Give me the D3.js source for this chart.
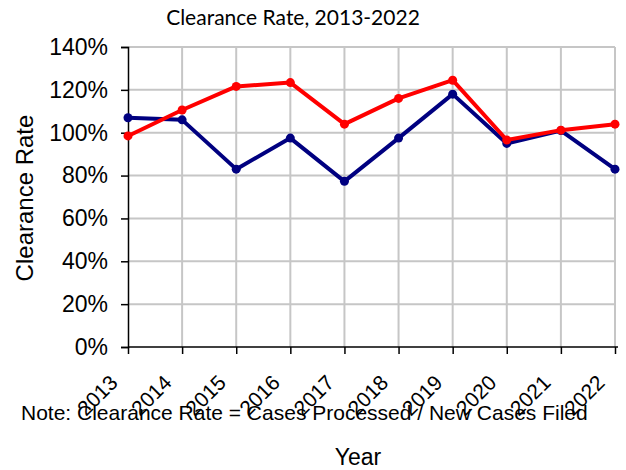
<!DOCTYPE html>
<html>
<head>
<meta charset="utf-8">
<script src="https://cdn.jsdelivr.net/npm/d3@7"></script>
<style>
  body { margin: 0; background: #fff; }
  text { font-family: "Liberation Sans", Arial, sans-serif; }
</style>
</head>
<body>
<svg id="chart" width="626" height="470"></svg>
<script>
const years = ['2013', '2014', '2015', '2016', '2017', '2018', '2019', '2020', '2021', '2022'];
const blue_rate = [1.07, 1.06, 0.83, 0.975, 0.773, 0.975, 1.18, 0.95, 1.01, 0.83];
const red_rate = [0.985, 1.106, 1.216, 1.234, 1.04, 1.16, 1.245, 0.966, 1.012, 1.04];
const y_ticks = [0, 0.2, 0.4, 0.6, 0.8, 1.0, 1.2, 1.4];

const svg = d3.select('#chart');
const xScale = d3.scalePoint().domain(years).range([128, 615]);
const yScale = d3.scaleLinear().domain([0, 1.4]).range([347, 47]);

// grid
const grid = svg.append('g').attr('id', 'grid');
grid.selectAll('line.h').data(y_ticks.slice(1)).enter().append('line')
  .attr('x1', 128).attr('x2', 615)
  .attr('y1', d => yScale(d)).attr('y2', d => yScale(d))
  .attr('stroke', '#c6c6c6').attr('stroke-width', 2);
grid.selectAll('line.v').data(years.slice(1)).enter().append('line')
  .attr('x1', d => xScale(d)).attr('x2', d => xScale(d))
  .attr('y1', yScale(1.4)).attr('y2', yScale(0))
  .attr('stroke', '#c6c6c6').attr('stroke-width', 2);

// axes
const yAxis = svg.append('g').attr('transform', 'translate(128,0)')
  .call(d3.axisLeft(yScale).tickValues(y_ticks).tickFormat(d3.format('.0%')).tickSizeOuter(0).tickSize(7).tickPadding(13));
yAxis.selectAll('text').attr('font-size', 23).attr('fill', '#000');
yAxis.selectAll('line, path').attr('stroke', '#000').attr('stroke-width', 1.5);

const xAxis = svg.append('g').attr('transform', 'translate(0,347)')
  .call(d3.axisBottom(xScale).tickSizeOuter(0).tickSize(7).tickFormat(''));
xAxis.select('path').attr('d', 'M128,0H618');
xAxis.selectAll('line, path').attr('stroke', '#000').attr('stroke-width', 1.5);

svg.append('g').selectAll('text').data(years).enter().append('text')
  .attr('text-anchor', 'end').attr('font-size', 21)
  .attr('transform', d => 'translate(' + (xScale(d) - 9) + ',384) rotate(-45)')
  .text(d => d);

// lines
const line = d3.line().x((d, i) => xScale(years[i])).y(d => yScale(d));
[[blue_rate, '#000080'], [red_rate, '#ff0000']].forEach(function(s) {
  svg.append('path').datum(s[0]).attr('d', line)
    .attr('fill', 'none').attr('stroke', s[1]).attr('stroke-width', 4).attr('stroke-linejoin', 'round');
  svg.append('g').selectAll('circle').data(s[0]).enter().append('circle')
    .attr('cx', (d, i) => xScale(years[i])).attr('cy', d => yScale(d))
    .attr('r', 4.5).attr('fill', s[1]);
});

// titles
svg.append('text').attr('x', 293).attr('y', 25).attr('text-anchor', 'middle')
  .style('font-family', 'Lato, "Open Sans", sans-serif').attr('font-size', 21)
  .text('Clearance Rate, 2013-2022');
svg.append('text').attr('transform', 'translate(33,198) rotate(-90)').attr('text-anchor', 'middle')
  .attr('font-size', 24).text('Clearance Rate');
svg.append('text').attr('x', 21).attr('y', 420).attr('font-size', 21)
  .text('Note: Clearance Rate = Cases Processed / New Cases Filed');
svg.append('text').attr('x', 358).attr('y', 465).attr('text-anchor', 'middle')
  .attr('font-size', 23).text('Year');
</script>
</body>
</html>
